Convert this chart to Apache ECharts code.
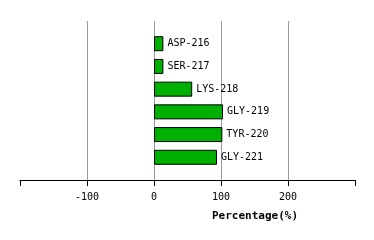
<!DOCTYPE html>
<html><head><meta charset="utf-8">
<script src="https://cdn.jsdelivr.net/npm/echarts@6/dist/echarts.min.js"></script>
<style>html,body{margin:0;padding:0;background:#fff}#c{width:374px;height:240px}</style>
</head><body><div id="c"></div>
<script>
const categories = ['ASP-216','SER-217','LYS-218','GLY-219','TYR-220','GLY-221'];
const values = [14, 14, 57, 103, 102, 94];
const xRange = [-200, 300];
const xTicks = [-100, 0, 100, 200];
const axisTitle = 'Percentage(%)';

const cats = [''].concat(categories, ['']);
const vals = [null].concat(values, [null]);

const chart = echarts.init(document.getElementById('c'), null, {renderer:'canvas'});
chart.setOption({
  animation:false,
  grid:{left:20,right:19,top:21,bottom:60},
  xAxis:{
    type:'value', min:xRange[0], max:xRange[1], interval:100,
    axisLine:{show:true,lineStyle:{color:'#000',width:1}},
    axisTick:{show:true,length:6,lineStyle:{color:'#000',width:1}},
    axisLabel:{color:'#000',fontFamily:'DejaVu Sans Mono',fontSize:10,margin:12,
      formatter:function(v){return xTicks.indexOf(v)>=0?String(v):'';}},
    splitLine:{show:true,showMinLine:false,showMaxLine:false,lineStyle:{color:'#999',width:1}},
    name:axisTitle, nameLocation:'middle', nameGap:31,
    nameTextStyle:{color:'#000',fontFamily:'DejaVu Sans Mono',fontWeight:'bold',fontSize:11,padding:[0,0,0,135]}
  },
  yAxis:{
    type:'category', data:cats, inverse:true, boundaryGap:false,
    axisLine:{show:false}, axisTick:{show:false}, axisLabel:{show:false}, splitLine:{show:false}
  },
  series:[{
    type:'bar', data:vals, barWidth:15,
    itemStyle:{color:'#00b000',borderColor:'#000',borderWidth:1},
    label:{show:true,position:'right',distance:4,color:'#000',fontFamily:'DejaVu Sans Mono',fontSize:10,
      formatter:function(p){return cats[p.dataIndex];}}
  }]
});
</script></body></html>
